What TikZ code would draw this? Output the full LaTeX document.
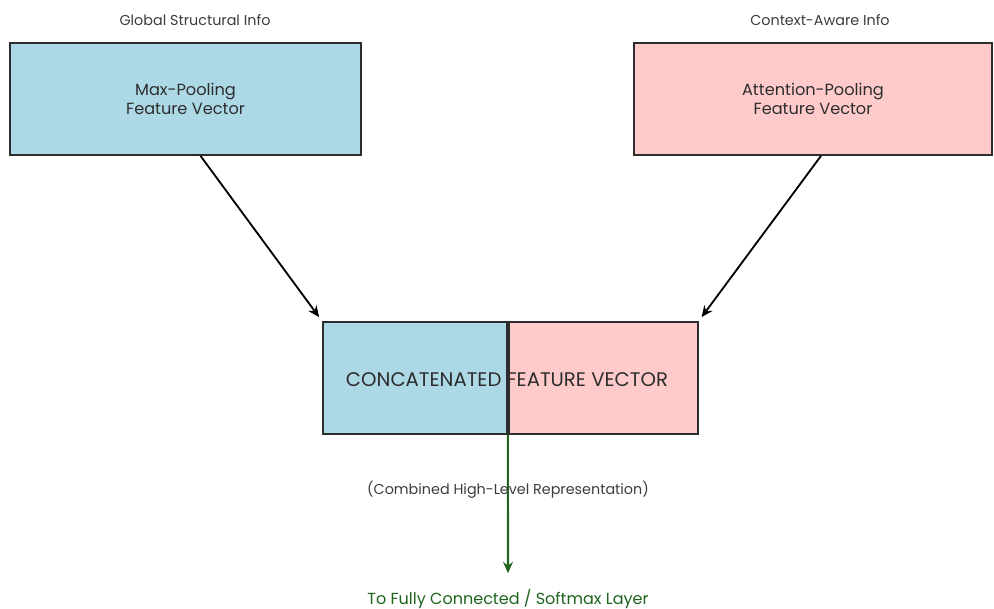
\documentclass[tikz,border=0pt]{standalone}
\usepackage{fontspec}
\setmainfont{Poppins}
\usepackage{xcolor}
\usetikzlibrary{positioning,calc,arrows.meta}

\definecolor{poolblue}{RGB}{173,216,230}
\definecolor{poolpink}{RGB}{255,202,202}
\definecolor{boxline}{RGB}{45,45,45}
\definecolor{outgreen}{RGB}{30,100,30}
\definecolor{notegray}{RGB}{60,60,60}

\tikzset{
  poolbox/.style={draw=boxline, line width=1.2pt, minimum height=2.8cm, align=center, font=\fontsize{11.5}{13.5}\selectfont, text=boxline},
  halfbox/.style={draw=boxline, line width=1.2pt, minimum height=2.8cm, inner sep=0pt},
  infolabel/.style={font=\fontsize{10.2}{12}\selectfont, text=notegray},
  feed/.style={-{Stealth[length=8pt,width=7pt]}, line width=1.3pt, black}
}

\begin{document}
\begin{tikzpicture}[x=0.025cm, y=-0.025cm]
    \useasboundingbox (0,0) rectangle (994,609);
    % input vectors
    \node[poolbox, fill=poolblue, minimum width=8.775cm] (maxpool) at (185.5,99) {Max-Pooling\\Feature Vector};
    \node[poolbox, fill=poolpink, minimum width=8.95cm] (attpool) at (813,99) {Attention-Pooling\\Feature Vector};
    \node[infolabel] (globinfo) at (195,20) {Global Structural Info};
    \node[infolabel] (ctxinfo) at (820,20) {Context-Aware Info};
    % concatenated vector
    \node[halfbox, fill=poolblue, minimum width=4.6cm] (catL) at (415,378) {};
    \node[halfbox, fill=poolpink, minimum width=4.725cm, anchor=west] (catR) at (catL.east) {};
    \node[font=\fontsize{14}{16}\selectfont, text=boxline] (cattext) at (507,380) {CONCATENATED FEATURE VECTOR};
    \draw[feed] ([xshift=0.375cm]maxpool.south) -- ([shift={(-3,-4)}]catL.north west);
    \draw[feed] ([xshift=0.2cm]attpool.south) -- ([shift={(3,-4)}]catR.north east);
    % output
    \node[text=outgreen, font=\fontsize{11.4}{13}\selectfont] (fclayer) at (508,599) {To Fully Connected / Softmax Layer};
    \draw[-{Stealth[length=8pt,width=7pt]}, line width=1.5pt, outgreen] (catL.south east) -- ([yshift=0.28cm]fclayer.north);
    \node[infolabel] (combined) at (508,490) {(Combined High-Level Representation)};
\end{tikzpicture}
\end{document}
